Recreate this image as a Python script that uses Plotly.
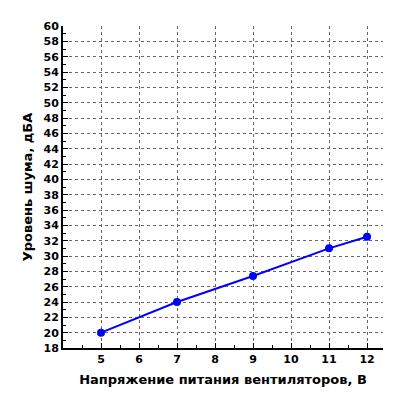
import plotly.graph_objects as go

voltage = [5, 7, 9, 11, 12]
noise = [20, 24, 27.4, 31, 32.5]
x_ticks = [5, 6, 7, 8, 9, 10, 11, 12]

fig = go.Figure(go.Scatter(x=voltage, y=noise, mode="lines+markers",
    line=dict(color="#0000ff", width=2), marker=dict(color="#0000ff", size=8)))
fnt = dict(family="DejaVu Sans", size=11, color="black")
fig.update_layout(width=400, height=400, margin=dict(l=55, r=25, t=18, b=60, autoexpand=False),
    plot_bgcolor="white", paper_bgcolor="white", showlegend=False, font=fnt)
fig.update_xaxes(range=[4, 12.42], tickvals=x_ticks, showline=True, linecolor="black", linewidth=2,
    showgrid=True, gridcolor="#666", griddash="dot", gridwidth=1, zeroline=False, automargin=False,
    ticks="inside", ticklen=5, tickcolor="black",
    minor=dict(dtick=0.5, ticks="inside", ticklen=3, tickcolor="black", showgrid=False),
    tickfont=dict(family="DejaVu Sans", size=11, color="black", weight="bold"),
    title=dict(text="<b>Напряжение питания вентиляторов, В</b>", font=dict(size=13), standoff=10))
fig.update_yaxes(range=[18, 60], dtick=2, showline=True, linecolor="black", linewidth=2,
    showgrid=True, gridcolor="#666", griddash="dot", gridwidth=1, zeroline=False, automargin=False,
    ticks="inside", ticklen=5, tickcolor="black",
    minor=dict(dtick=1, ticks="inside", ticklen=3, tickcolor="black", showgrid=False),
    tickfont=dict(family="DejaVu Sans", size=11, color="black", weight="bold"),
    title=dict(text="<b>Уровень шума, дБА</b>", font=dict(size=13), standoff=8))
fig.write_html("out.html")
